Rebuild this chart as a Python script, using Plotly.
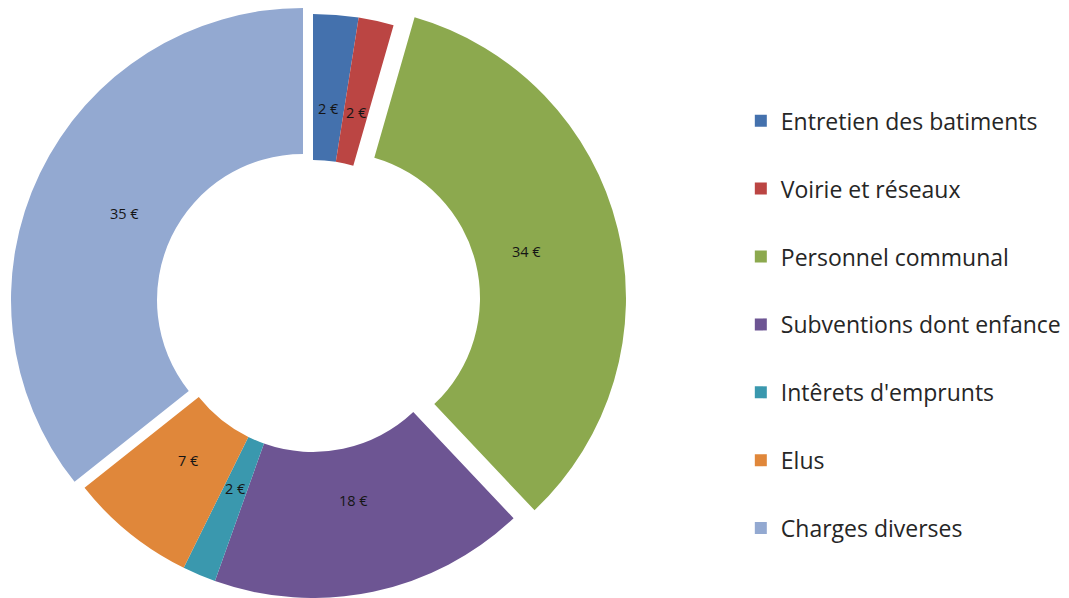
import math
import plotly.graph_objects as go

# ---- data -------------------------------------------------------------
categories = [
    "Entretien des batiments",
    "Voirie et réseaux",
    "Personnel communal",
    "Subventions dont enfance",
    "Intêrets d'emprunts",
    "Elus",
    "Charges diverses",
]
values = [2.5, 1.95, 33.5, 17.5, 1.85, 7.0, 35.7]
value_labels = ["2 €", "2 €", "34 €", "18 €", "2 €", "7 €", "35 €"]

# ---- style ------------------------------------------------------------
colors = ["#4471AD", "#BB4543", "#8CA94E", "#6D5593", "#3A98AE", "#E0873A", "#93A9D1"]
W, H = 1069, 598
R = 292            # outer radius in px
HOLE = 0.5
LABEL_R = 0.68     # label radius as fraction of outer radius
CENTER = (313, 306)
# exploded slices: pixel offset of the slice centre
OFFSETS = {"Personnel communal": (21, -8), "Charges diverses": (-10, -6)}
TEXT_FONT = "Open Sans"


def domain(cx, cy):
    return dict(
        x=[max(0.0, (cx - R) / W), min(1.0, (cx + R) / W)],
        y=[max(0.0, (H - cy - R) / H), min(1.0, (H - cy + R) / H)],
    )


total = sum(values)
mids = []
cum = 0.0
for v in values:
    mids.append((cum + v / 2) / total * 360.0)
    cum += v

groups = [((0, 0), [c for c in categories if c not in OFFSETS])]
groups += [(OFFSETS[c], [c]) for c in OFFSETS]

fig = go.Figure()

for (dx, dy), members in groups:
    cx, cy = CENTER[0] + dx, CENTER[1] + dy
    fig.add_trace(go.Pie(
        labels=categories,
        values=values,
        sort=False,
        direction="clockwise",
        rotation=0,
        hole=HOLE,
        marker=dict(
            colors=[col if cat in members else "rgba(0,0,0,0)"
                    for cat, col in zip(categories, colors)],
            line=dict(width=0),
        ),
        textinfo="none",
        hoverinfo="skip",
        showlegend=False,
        domain=domain(cx, cy),
    ))
    for cat, lab, th in zip(categories, value_labels, mids):
        if cat not in members:
            continue
        px = cx + LABEL_R * R * math.sin(math.radians(th))
        py = cy - LABEL_R * R * math.cos(math.radians(th))
        fig.add_annotation(
            x=px / W, y=1 - py / H, xref="paper", yref="paper",
            text=lab, showarrow=False, xanchor="center", yanchor="middle",
            font=dict(family=TEXT_FONT, size=14.5, color="#151515"),
        )

# legend entries
for cat, col in zip(categories, colors):
    fig.add_trace(go.Scatter(
        x=[None], y=[None], mode="markers", name=cat, legendgroup=cat,
        marker=dict(symbol="square", size=12, color=col),
        hoverinfo="skip",
    ))

fig.update_layout(
    width=W, height=H,
    margin=dict(l=0, r=0, t=0, b=0),
    paper_bgcolor="white",
    plot_bgcolor="white",
    xaxis=dict(visible=False),
    yaxis=dict(visible=False),
    showlegend=True,
    legend=dict(
        x=0.693, xanchor="left",
        y=0.834, yanchor="top",
        tracegroupgap=35,
        font=dict(family=TEXT_FONT, size=23, color="#262626"),
        bgcolor="rgba(0,0,0,0)",
        itemclick=False, itemdoubleclick=False,
    ),
)

fig.write_html("out.html")
